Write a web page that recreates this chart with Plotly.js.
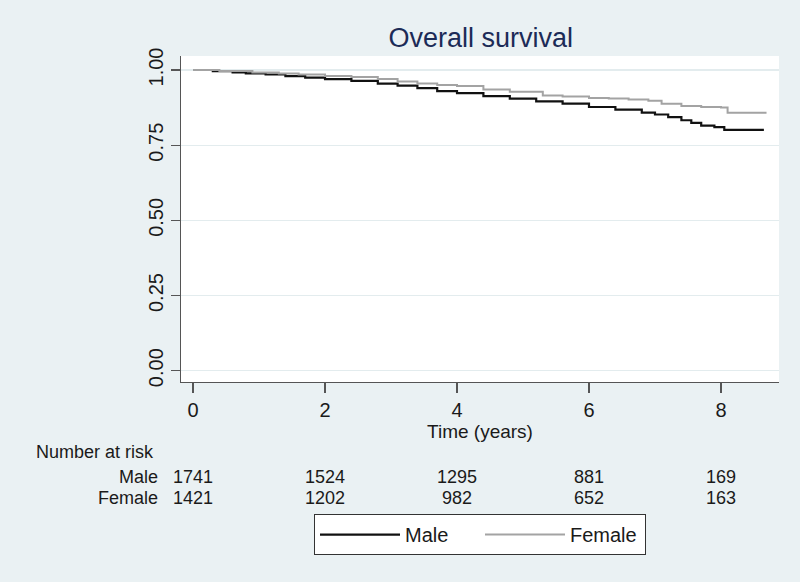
<!DOCTYPE html>
<html>
<head>
<meta charset="utf-8">
<script src="https://cdn.plot.ly/plotly-3.0.1.min.js"></script>
<style>html,body{margin:0;padding:0;background:#eaf1f3;}#chart{width:800px;height:582px;}</style>
</head>
<body>
<div id="chart"></div>
<script>
// Kaplan-Meier estimates
const maleTime = [0, 0.3, 0.6, 0.8, 1.1, 1.4, 1.7, 2.0, 2.4, 2.8, 3.1, 3.4, 3.7, 4.0, 4.4, 4.8, 5.2, 5.6, 6.0, 6.4, 6.8, 7.0, 7.2, 7.4, 7.55, 7.7, 7.9, 8.05, 8.65];
const maleSurv = [1.0, 0.996, 0.992, 0.989, 0.985, 0.980, 0.975, 0.970, 0.964, 0.955, 0.948, 0.940, 0.930, 0.923, 0.913, 0.905, 0.896, 0.888, 0.877, 0.868, 0.858, 0.852, 0.843, 0.833, 0.824, 0.815, 0.810, 0.801, 0.801];
const femaleTime = [0, 0.4, 0.9, 1.3, 1.6, 2.0, 2.4, 2.8, 3.1, 3.4, 3.7, 4.0, 4.4, 4.8, 5.3, 5.6, 6.0, 6.3, 6.6, 6.9, 7.1, 7.4, 7.7, 8.0, 8.1, 8.69];
const femaleSurv = [1.0, 0.997, 0.992, 0.988, 0.985, 0.980, 0.977, 0.970, 0.962, 0.955, 0.950, 0.947, 0.935, 0.928, 0.915, 0.912, 0.907, 0.905, 0.902, 0.898, 0.888, 0.880, 0.877, 0.875, 0.858, 0.858];

// Number at risk table
const riskTimes = [0, 2, 4, 6, 8];
const maleAtRisk = [1741, 1524, 1295, 881, 169];
const femaleAtRisk = [1421, 1202, 982, 652, 163];
const groupNames = ["Male", "Female"];

const xTicks = [0, 2, 4, 6, 8];
const yTicks = [0, 0.25, 0.5, 0.75, 1];
const yTickLabels = ["0.00", "0.25", "0.50", "0.75", "1.00"];

const FONT = "Liberation Sans Narrow, Liberation Sans, Arial, sans-serif";
const txt = "#1a1a1a";

const traces = [
  {x: maleTime, y: maleSurv, name: groupNames[0], mode: "lines", line: {shape: "hv", color: "#111111", width: 2.2}},
  {x: femaleTime, y: femaleSurv, name: groupNames[1], mode: "lines", line: {shape: "hv", color: "#a3a3a3", width: 2}}
];

const annotations = [];
const rowY = [-0.29, -0.357];
annotations.push({xref: "paper", yref: "paper", x: -0.245, y: -0.215, xanchor: "left", yanchor: "middle",
  text: "Number at risk", showarrow: false, font: {family: FONT, size: 18, color: txt}});
[maleAtRisk, femaleAtRisk].forEach((arr, gi) => {
  annotations.push({xref: "paper", yref: "paper", x: -0.035, y: rowY[gi], xanchor: "right", yanchor: "middle",
    text: groupNames[gi], showarrow: false, font: {family: FONT, size: 18, color: txt}});
  arr.forEach((n, i) => {
    annotations.push({xref: "x", yref: "paper", x: riskTimes[i], y: rowY[gi], xanchor: "center", yanchor: "middle",
      text: String(n), showarrow: false, font: {family: FONT, size: 18, color: txt}});
  });
});

const layout = {
  width: 800, height: 582,
  paper_bgcolor: "#eaf1f3",
  plot_bgcolor: "#ffffff",
  margin: {l: 181, r: 21, t: 56, b: 200, pad: 0},
  title: {text: "Overall survival", x: 0.601, xanchor: "center", y: 0.935, yanchor: "middle",
    font: {family: FONT, size: 27, color: "#1c2b57"}},
  xaxis: {
    range: [-0.182, 8.879], tickvals: xTicks, ticktext: xTicks.map(String),
    showgrid: false, zeroline: false, showline: true, linecolor: "#555555", linewidth: 1.3,
    ticks: "outside", ticklen: 10, tickcolor: "#555555", tickwidth: 1.2,
    tickfont: {family: FONT, size: 20, color: txt},
    title: {text: "Time (years)", font: {family: FONT, size: 19, color: txt}, standoff: 2}
  },
  yaxis: {
    range: [-0.0376, 1.0466], tickvals: yTicks, ticktext: yTickLabels, tickangle: -90,
    showgrid: true, gridcolor: "#e3ecee", gridwidth: 1.2, zeroline: false,
    showline: true, linecolor: "#555555", linewidth: 1.3,
    ticks: "outside", ticklen: 9, tickcolor: "#555555", tickwidth: 1.2,
    tickfont: {family: FONT, size: 20, color: txt}
  },
  showlegend: true,
  legend: {orientation: "h", x: 0.5, xanchor: "center", y: -0.405, yanchor: "top",
    bgcolor: "#ffffff", bordercolor: "#333333", borderwidth: 1,
    font: {family: FONT, size: 20, color: txt},
    itemwidth: 80, entrywidth: 70, entrywidthmode: "pixels"},
  annotations: annotations
};

Plotly.newPlot("chart", traces, layout, {displayModeBar: false, staticPlot: true});
</script>
</body>
</html>
